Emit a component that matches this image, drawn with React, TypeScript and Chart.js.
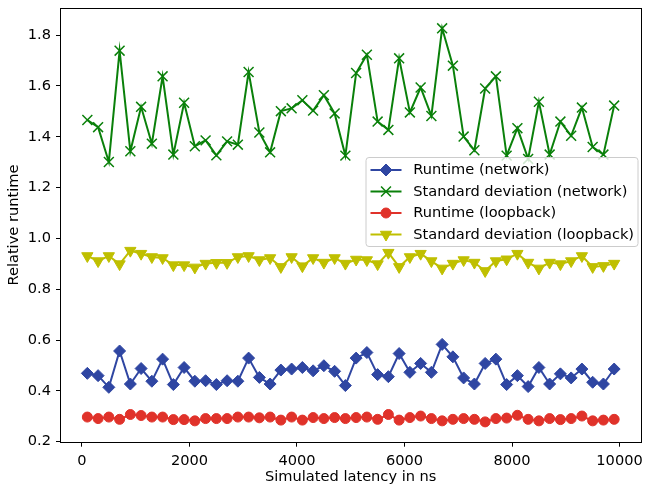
import React, { useEffect, useRef } from 'react';
import { Chart, registerables } from 'chart.js';

Chart.register(...registerables);

const latency = [
  100, 300, 500, 700, 900, 1100, 1300, 1500, 1700, 1900,
  2100, 2300, 2500, 2700, 2900, 3100, 3300, 3500, 3700, 3900,
  4100, 4300, 4500, 4700, 4900, 5100, 5300, 5500, 5700, 5900,
  6100, 6300, 6500, 6700, 6900, 7100, 7300, 7500, 7700, 7900,
  8100, 8300, 8500, 8700, 8900, 9100, 9300, 9500, 9700, 9900,
];

const runtimeNetwork = [
  0.469, 0.460, 0.414, 0.557, 0.427, 0.488, 0.438, 0.525, 0.425, 0.492,
  0.438, 0.440, 0.425, 0.440, 0.438, 0.529, 0.453, 0.427, 0.482, 0.486,
  0.492, 0.479, 0.499, 0.477, 0.421, 0.529, 0.551, 0.464, 0.456, 0.547,
  0.473, 0.508, 0.473, 0.583, 0.534, 0.451, 0.427, 0.508, 0.525, 0.425,
  0.460, 0.417, 0.492, 0.427, 0.467, 0.451, 0.486, 0.434, 0.427, 0.486,
];

const stdNetwork = [
  1.466, 1.438, 1.301, 1.739, 1.343, 1.518, 1.373, 1.638, 1.330, 1.534,
  1.363, 1.386, 1.327, 1.382, 1.369, 1.655, 1.417, 1.339, 1.501, 1.512,
  1.544, 1.503, 1.564, 1.492, 1.326, 1.651, 1.723, 1.460, 1.427, 1.709,
  1.496, 1.594, 1.482, 1.827, 1.680, 1.401, 1.347, 1.590, 1.638, 1.326,
  1.434, 1.313, 1.538, 1.330, 1.460, 1.404, 1.515, 1.360, 1.330, 1.523,
];

const runtimeLoopback = [
  0.297, 0.291, 0.297, 0.288, 0.307, 0.303, 0.297, 0.297, 0.287, 0.287,
  0.282, 0.291, 0.291, 0.291, 0.297, 0.297, 0.294, 0.297, 0.285, 0.297,
  0.285, 0.295, 0.291, 0.295, 0.291, 0.295, 0.297, 0.288, 0.307, 0.285,
  0.295, 0.301, 0.291, 0.282, 0.288, 0.291, 0.288, 0.278, 0.291, 0.293,
  0.304, 0.288, 0.282, 0.291, 0.287, 0.291, 0.301, 0.282, 0.285, 0.288,
];

const stdLoopback = [
  0.931, 0.911, 0.931, 0.899, 0.952, 0.940, 0.927, 0.923, 0.895, 0.895,
  0.886, 0.901, 0.904, 0.904, 0.927, 0.931, 0.915, 0.923, 0.888, 0.927,
  0.891, 0.923, 0.905, 0.923, 0.901, 0.917, 0.915, 0.899, 0.944, 0.888,
  0.927, 0.940, 0.911, 0.882, 0.901, 0.915, 0.905, 0.872, 0.911, 0.918,
  0.940, 0.905, 0.882, 0.905, 0.899, 0.911, 0.931, 0.888, 0.892, 0.901,
];

const seriesLabels = [
  'Runtime (network)',
  'Standard deviation (network)',
  'Runtime (loopback)',
  'Standard deviation (loopback)',
];

const xTicks = [0, 2000, 4000, 6000, 8000, 10000];
const xTickLabels = ['0', '2000', '4000', '6000', '8000', '10000'];
const yTicks = [0.2, 0.4, 0.6, 0.8, 1.0, 1.2, 1.4, 1.6, 1.8];
const yTickLabels = ['0.2', '0.4', '0.6', '0.8', '1.0', '1.2', '1.4', '1.6', '1.8'];

const xLabel = 'Simulated latency in ns';
const yLabel = 'Relative runtime';

const BLUE = '#2f46a2';
const GREEN = '#0a800a';
const RED = '#e0322a';
const YELLOW = '#bfbf00';
const FONT = 'DejaVu Sans';
const FS = 14.6;

type Style = { color: string; marker: string; radius: number; rotation: number; borderWidth: number };
const styles: Style[] = [
  { color: BLUE, marker: 'rectRot', radius: 6, rotation: 0, borderWidth: 1 },
  { color: GREEN, marker: 'crossRot', radius: 7, rotation: 0, borderWidth: 1.5 },
  { color: RED, marker: 'circle', radius: 5, rotation: 0, borderWidth: 1 },
  { color: YELLOW, marker: 'triangle', radius: 6.5, rotation: 180, borderWidth: 1 },
];

function drawMarker(ctx: CanvasRenderingContext2D, s: Style, x: number, y: number) {
  const r = s.radius;
  ctx.save();
  ctx.fillStyle = s.color;
  ctx.strokeStyle = s.color;
  ctx.lineWidth = s.borderWidth;
  ctx.beginPath();
  if (s.marker === 'rectRot') {
    ctx.moveTo(x, y - r);
    ctx.lineTo(x + r, y);
    ctx.lineTo(x, y + r);
    ctx.lineTo(x - r, y);
    ctx.closePath();
    ctx.fill();
    ctx.stroke();
  } else if (s.marker === 'crossRot') {
    const d = r * Math.SQRT1_2;
    ctx.moveTo(x - d, y - d);
    ctx.lineTo(x + d, y + d);
    ctx.moveTo(x + d, y - d);
    ctx.lineTo(x - d, y + d);
    ctx.stroke();
  } else if (s.marker === 'circle') {
    ctx.arc(x, y, r, 0, Math.PI * 2);
    ctx.fill();
    ctx.stroke();
  } else {
    const hw = r * Math.sqrt(3) / 2;
    ctx.moveTo(x, y + r);
    ctx.lineTo(x - hw, y - r / 2);
    ctx.lineTo(x + hw, y - r / 2);
    ctx.closePath();
    ctx.fill();
    ctx.stroke();
  }
  ctx.restore();
}

const framePlugin = {
  id: 'frame',
  afterDatasetsDraw(chart: any) {
    const { ctx, chartArea } = chart;
    ctx.save();
    ctx.strokeStyle = '#000';
    ctx.lineWidth = 1;
    const l = Math.round(chartArea.left) - 0.5;
    const t = Math.round(chartArea.top) - 0.5;
    const r = Math.round(chartArea.right) + 0.5;
    const b = Math.round(chartArea.bottom) + 0.5;
    ctx.strokeRect(l, t, r - l, b - t);
    ctx.restore();
  },
};

const legendPlugin = {
  id: 'mplLegend',
  afterDraw(chart: any) {
    const { ctx } = chart;
    const bx = 366, by = 157.5, bw = 272, bh = 89, rad = 3;
    ctx.save();
    ctx.beginPath();
    ctx.moveTo(bx + rad, by);
    ctx.lineTo(bx + bw - rad, by);
    ctx.arcTo(bx + bw, by, bx + bw, by + rad, rad);
    ctx.lineTo(bx + bw, by + bh - rad);
    ctx.arcTo(bx + bw, by + bh, bx + bw - rad, by + bh, rad);
    ctx.lineTo(bx + rad, by + bh);
    ctx.arcTo(bx, by + bh, bx, by + bh - rad, rad);
    ctx.lineTo(bx, by + rad);
    ctx.arcTo(bx, by, bx + rad, by, rad);
    ctx.closePath();
    ctx.fillStyle = 'rgba(255,255,255,0.8)';
    ctx.fill();
    ctx.strokeStyle = '#cccccc';
    ctx.lineWidth = 1;
    ctx.stroke();

    ctx.font = `${FS}px "${FONT}"`;
    ctx.textBaseline = 'middle';
    ctx.textAlign = 'left';
    seriesLabels.forEach((label, i) => {
      const y = 170 + i * 21.5;
      const s = styles[i];
      ctx.strokeStyle = s.color;
      ctx.lineWidth = 2;
      ctx.beginPath();
      ctx.moveTo(370.5, y);
      ctx.lineTo(401.5, y);
      ctx.stroke();
      drawMarker(ctx, s, 386, y);
      ctx.fillStyle = '#000';
      ctx.fillText(label, 413.3, y + 0.5);
    });
    ctx.restore();
  },
};

export default function App() {
  const ref = useRef<HTMLCanvasElement | null>(null);

  useEffect(() => {
    if (!ref.current) return;
    const series = [runtimeNetwork, stdNetwork, runtimeLoopback, stdLoopback];
    const datasets = series.map((vals, i) => {
      const s = styles[i];
      return {
        label: seriesLabels[i],
        data: latency.map((x, j) => ({ x, y: vals[j] })),
        borderColor: s.color,
        backgroundColor: s.color,
        borderWidth: 2,
        pointStyle: s.marker,
        pointRadius: s.radius,
        pointRotation: s.rotation,
        pointBorderWidth: s.borderWidth,
        pointBorderColor: s.color,
        pointBackgroundColor: s.color,
        tension: 0,
        fill: false,
        order: i,
      };
    });

    const chart = new Chart(ref.current, {
      type: 'line',
      data: { datasets },
      options: {
        responsive: false,
        animation: false,
        devicePixelRatio: 1,
        layout: { padding: { top: 4, right: 2, left: 0, bottom: 0 } },
        plugins: {
          legend: { display: false },
          tooltip: { enabled: false },
        },
        scales: {
          x: {
            type: 'linear',
            min: -390,
            max: 10390,
            afterBuildTicks: (scale: any) => {
              scale.ticks = xTicks.map((v) => ({ value: v }));
            },
            afterFit: (scale: any) => {
              scale.height = 48.3;
              scale.paddingLeft = 0;
              scale.paddingRight = 0;
            },
            border: { display: false },
            grid: {
              display: true,
              drawOnChartArea: false,
              drawTicks: true,
              tickLength: 5,
              tickWidth: 1,
              tickColor: '#000',
            },
            ticks: {
              color: '#000',
              font: { family: FONT, size: FS },
              padding: 6,
              maxRotation: 0,
              autoSkip: false,
              callback: (v: any) => {
                const k = xTicks.indexOf(Number(v));
                return k >= 0 ? xTickLabels[k] : '';
              },
            },
            title: {
              display: true,
              text: xLabel,
              color: '#000',
              font: { family: FONT, size: FS },
              padding: { top: 0, bottom: 4 },
            },
          },
          y: {
            type: 'linear',
            min: 0.2,
            max: 1.905,
            afterBuildTicks: (scale: any) => {
              scale.ticks = yTicks.map((v) => ({ value: v }));
            },
            afterFit: (scale: any) => {
              scale.width = 61;
              scale.paddingTop = 0;
              scale.paddingBottom = 0;
            },
            border: { display: false },
            grid: {
              display: true,
              drawOnChartArea: false,
              drawTicks: true,
              tickLength: 5,
              tickWidth: 1,
              tickColor: '#000',
            },
            ticks: {
              color: '#000',
              font: { family: FONT, size: FS },
              padding: 5,
              autoSkip: false,
              callback: (v: any) => {
                const k = yTicks.findIndex((t) => Math.abs(t - Number(v)) < 1e-9);
                return k >= 0 ? yTickLabels[k] : '';
              },
            },
            title: {
              display: true,
              text: yLabel,
              color: '#000',
              font: { family: FONT, size: FS },
              padding: { top: 5, bottom: 0 },
            },
          },
        },
      },
      plugins: [framePlugin, legendPlugin],
    } as any);

    return () => chart.destroy();
  }, []);

  return (
    <div style={{ position: 'fixed', left: 0, top: 0, width: 649, height: 490, background: '#fff' }}>
      <canvas ref={ref} width={649} height={490} style={{ display: 'block', width: 649, height: 490 }} />
    </div>
  );
}
